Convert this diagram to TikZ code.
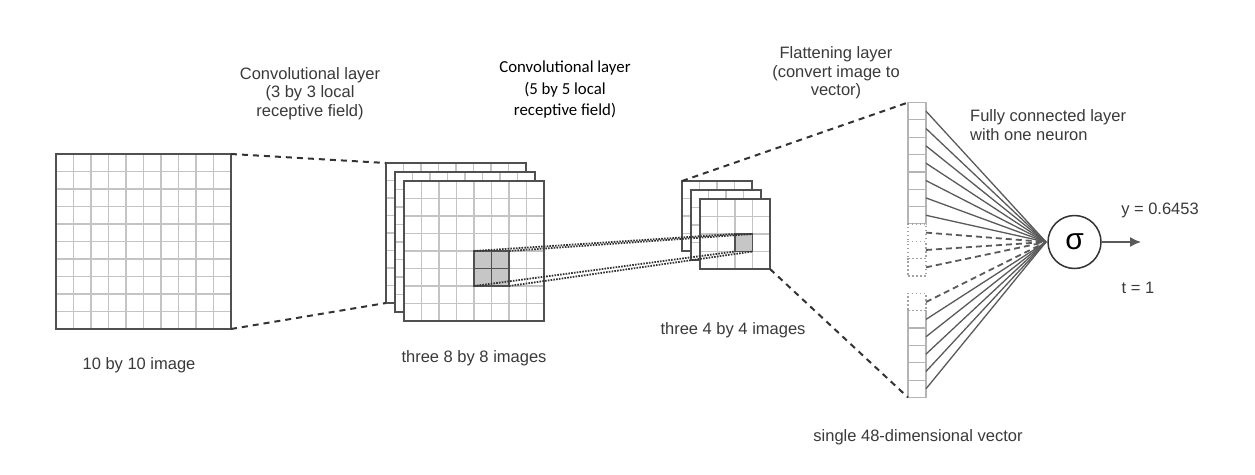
\documentclass[tikz,border=0pt]{standalone}
\usepackage{fontspec}
\setmainfont{Liberation Sans}
\newfontfamily\carlito{Carlito}
\usetikzlibrary{arrows.meta}
\definecolor{gridgray}{HTML}{C4C4C4}
\definecolor{bordergray}{HTML}{505050}
\definecolor{dashgray}{HTML}{333333}
\definecolor{txtgray}{HTML}{3A3A3A}
\definecolor{cellgray}{HTML}{B4B4B4}
\definecolor{fcgray}{HTML}{5A5A5A}
\definecolor{shade}{HTML}{C6C6C6}
\tikzset{
  layerbox/.style={rectangle, fill=white, draw=none, inner sep=0pt, outer sep=0pt},
  gridline/.style={draw=gridgray, line width=1.5pt},
  border/.style={draw=bordergray, line width=1.8pt},
  conn/.style={draw=dashgray, line width=2pt, dash pattern=on 6pt off 5pt},
  dotconn/.style={draw=dashgray, line width=1.8pt, dash pattern=on 1.6pt off 1.2pt},
  rfbox/.style={rectangle, fill=shade, draw=bordergray, line width=1.6pt, inner sep=0pt, outer sep=0pt},
  vcell/.style={rectangle, draw=cellgray, line width=1.2pt, fill=white, inner sep=0pt, outer sep=0pt, minimum width=18pt, minimum height=17.35pt},
  vcelldot/.style={vcell, draw=cellgray!90!black, dash pattern=on 1.5pt off 2.5pt},
  fc/.style={draw=fcgray, line width=1.3pt},
  fcdash/.style={draw=fcgray, line width=1.8pt, dash pattern=on 6pt off 4pt},
  lbl/.style={text=txtgray, font=\fontsize{16.5}{18.5}\selectfont, align=center, inner sep=0pt},
}
\newcommand{\gridlayer}[5]{%
  \pgfmathsetmacro\gsz{#4*#5}%
  \pgfmathtruncatemacro\gnm{#4-1}%
  \node[layerbox, minimum width=\gsz pt, minimum height=\gsz pt, anchor=north west] (#1) at (#2,#3) {};
  \foreach \i in {1,...,\gnm}{
    \draw[gridline] (#2+\i*#5,#3) -- (#2+\i*#5,#3+\gsz);
    \draw[gridline] (#2,#3+\i*#5) -- (#2+\gsz,#3+\i*#5);
  }
  \draw[border] (#1.north west) rectangle (#1.south east);
}
\begin{document}
\begin{tikzpicture}[x=1pt,y=-1pt]
\useasboundingbox[fill=white] (0,0) rectangle (1255,474);

% 10x10 image
\gridlayer{img}{56}{154}{10}{17.5}

% stack of three 8x8
\gridlayer{sa}{386}{163}{8}{17.5}
\gridlayer{sb}{395}{172}{8}{17.5}
\gridlayer{sc}{404}{181}{8}{17.5}
\node[rfbox, minimum width=35pt, minimum height=35pt, anchor=north west] (rf2) at (474,251) {};
\draw[draw=bordergray, line width=1.4pt] (rf2.north) -- (rf2.south) (rf2.west) -- (rf2.east);

% stack of three 4x4
\gridlayer{ta}{682}{181}{4}{17.5}
\gridlayer{tb}{691}{190}{4}{17.5}
\gridlayer{tc}{700}{199}{4}{17.5}
\node[rfbox, minimum width=17.5pt, minimum height=17.5pt, anchor=north west] (rf3) at (735,234) {};

% dashed projections
\draw[conn] (img.north east) -- (sa.north west);
\draw[conn] (img.south east) -- (sa.south west);

% dotted receptive field lines
\draw[dotconn] (rf2.north west) -- (rf3.north west);
\draw[dotconn] (rf2.north east) -- (rf3.north east);
\draw[dotconn] (rf2.south west) -- (rf3.south west);
\draw[dotconn] (rf2.south east) -- (rf3.south east);

% vector
\foreach \i in {0,...,6,12,13,14,15,16}{
  \node[vcell, anchor=north west] (v\i) at (908,102.5+\i*17.35) {};
}
\foreach \i in {7,8,9,11}{
  \node[vcelldot, anchor=north west] (v\i) at (908,102.5+\i*17.35) {};
}
\draw[conn] (ta.north west) -- (v0.north west);
\draw[conn] (tc.south east) -- (v16.south west);

% neuron
\node[circle, draw=dashgray, line width=1.5pt, minimum size=53pt, inner sep=0pt] (sig) at (1074.5,242) {\fontsize{30}{30}\selectfont σ};
\coordinate (conv) at (1046,242);
\foreach \i in {0,...,6,12,13,14,15,16}{
  \draw[fc] (v\i.east) -- (conv);
}
\foreach \i in {7,8,9,11}{
  \draw[fcdash] (v\i.east) -- (conv);
}
\coordinate (out) at (1141,242);
\draw[draw=fcgray, line width=1.5pt, -{Latex[length=11pt,width=10pt]}] (sig.east) -- (out);

% labels
\node[lbl] (l1) at (310,93.5) {Convolutional layer\\(3 by 3 local\\receptive field)};
\node[align=center, inner sep=0pt, text=black, font=\carlito\fontsize{16.8}{21.5}\selectfont] (l2) at (565,90) {Convolutional layer\\(5 by 5 local\\receptive field)};
\node[lbl] (l3) at (836,73) {Flattening layer\\(convert image to\\vector)};
\node[lbl, align=left, anchor=west] (l4) at (970,125) {Fully connected layer\\with one neuron};
\node[lbl] (l5) at (139,365) {10 by 10 image};
\node[lbl] (l6) at (474,358) {three 8 by 8 images};
\node[lbl] (l7) at (733,330) {three 4 by 4 images};
\node[lbl] (l8) at (918,437) {single 48-dimensional vector};
\node[lbl] (l9) at (1160,210) {y = 0.6453};
\node[lbl] (l10) at (1138,288) {t = 1};
\end{tikzpicture}
\end{document}
